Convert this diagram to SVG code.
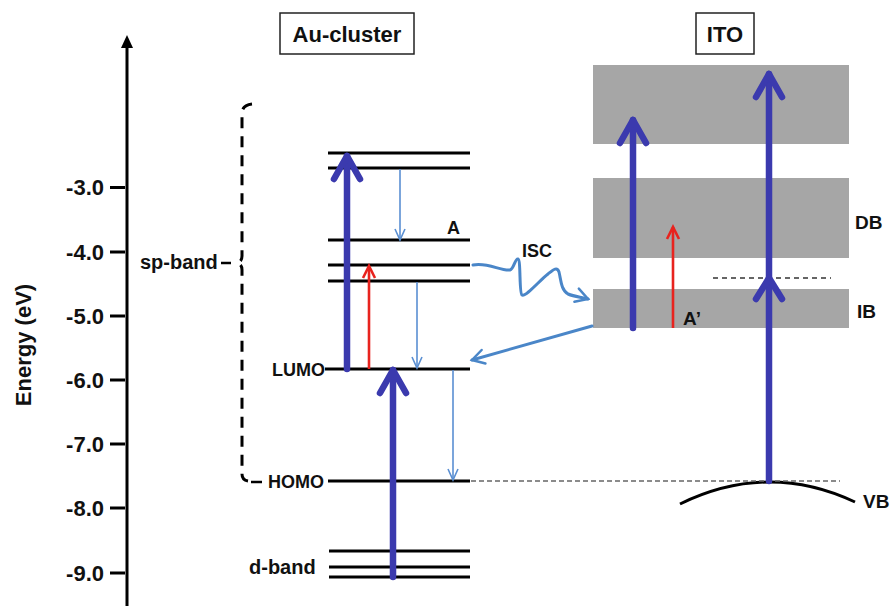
<svg xmlns="http://www.w3.org/2000/svg" width="893" height="606" viewBox="0 0 893 606">
<style>
text{font-family:"Liberation Sans",Arial,sans-serif;font-weight:bold;fill:#111}
.lvl{stroke:#000;stroke-width:3;fill:none}
.tick{stroke:#000;stroke-width:3}
.thick{stroke:#3b3aae;stroke-width:6.5;fill:none;stroke-linecap:round;stroke-linejoin:round}
.thin{stroke:#5a8fd2;stroke-width:1.6;fill:none}
.red{stroke:#e8231e;stroke-width:2.6;fill:none}
.isc{stroke:#4a86c8;stroke-width:3;fill:none;stroke-linecap:round;stroke-linejoin:round}
.band{fill:#a6a6a6}
.box{fill:#fff;stroke:#222;stroke-width:1.5}
</style>
<defs>
<marker id="hThick" markerUnits="userSpaceOnUse" viewBox="-30 -20 36 40" refX="0" refY="0" markerWidth="36" markerHeight="40" orient="auto" overflow="visible"><path d="M-23,-13 L0,0 L-23,13" fill="none" stroke="#3b3aae" stroke-width="6.5" stroke-linecap="round" stroke-linejoin="round"/></marker>
<marker id="hThin" markerUnits="userSpaceOnUse" viewBox="-14 -8 16 16" refX="0" refY="0" markerWidth="16" markerHeight="16" orient="auto" overflow="visible"><path d="M-11,-5 L0,0 L-11,5" fill="none" stroke="#5a8fd2" stroke-width="1.6"/></marker>
<marker id="hRed" markerUnits="userSpaceOnUse" viewBox="-14 -8 16 16" refX="0" refY="0" markerWidth="16" markerHeight="16" orient="auto" overflow="visible"><path d="M-12,-6 L0,0 L-12,6" fill="none" stroke="#e8231e" stroke-width="2.6"/></marker>
<marker id="hIsc" markerUnits="userSpaceOnUse" viewBox="-14 -8 16 16" refX="0" refY="0" markerWidth="16" markerHeight="16" orient="auto" overflow="visible"><path d="M-12,-7 L0,0 L-12,7" fill="none" stroke="#4a86c8" stroke-width="2.5" stroke-linecap="round"/></marker>
</defs>
<rect width="893" height="606" fill="#fff"/>

<g id="axis">
<line x1="127" y1="46" x2="127" y2="606" stroke="#000" stroke-width="3"/>
<path d="M127,35 L121,48 L133,48 Z" fill="#000"/>
<line class="tick" x1="110" y1="187.5" x2="125" y2="187.5"/>
<line class="tick" x1="110" y1="252" x2="125" y2="252"/>
<line class="tick" x1="110" y1="316" x2="125" y2="316"/>
<line class="tick" x1="110" y1="380" x2="125" y2="380"/>
<line class="tick" x1="110" y1="444" x2="125" y2="444"/>
<line class="tick" x1="110" y1="508" x2="125" y2="508"/>
<line class="tick" x1="110" y1="573" x2="125" y2="573"/>
<g font-size="22" text-anchor="end">
<text x="104" y="195">-3.0</text>
<text x="104" y="260">-4.0</text>
<text x="104" y="324">-5.0</text>
<text x="104" y="388">-6.0</text>
<text x="104" y="452">-7.0</text>
<text x="104" y="516">-8.0</text>
<text x="104" y="581">-9.0</text>
</g>
<text transform="translate(31,345) rotate(-90)" text-anchor="middle" font-size="22">Energy (eV)</text>
</g>

<g id="sp-band-bracket">
<path d="M252,104 Q243,105 242,112 L242,256 Q242,262 237,263 Q242,264 242,270 L242,474 Q242,480 248,481" fill="none" stroke="#000" stroke-width="3" stroke-dasharray="11,8"/>
<line x1="221" y1="263" x2="231" y2="263" stroke="#000" stroke-width="2.5"/>
<line x1="251" y1="482" x2="262" y2="482" stroke="#000" stroke-width="2.5"/>
<text x="140" y="269" font-size="20">sp-band</text>
</g>

<g id="au-cluster-title">
<rect class="box" x="280" y="13" width="134" height="41"/>
<text x="347" y="42" font-size="22" text-anchor="middle">Au-cluster</text>
</g>

<g id="ito-title">
<rect class="box" x="696" y="13" width="58" height="41"/>
<text x="725" y="42" font-size="22" text-anchor="middle">ITO</text>
</g>

<g id="au-levels">
<line class="lvl" x1="328" y1="153" x2="470" y2="153"/>
<line class="lvl" x1="328" y1="168" x2="470" y2="168"/>
<line class="lvl" x1="328" y1="240" x2="470" y2="240"/>
<line class="lvl" x1="328" y1="265" x2="470" y2="265"/>
<line class="lvl" x1="328" y1="281" x2="470" y2="281"/>
<text x="447" y="234" font-size="18">A</text>
</g>

<g id="lumo">
<line class="lvl" x1="325" y1="369" x2="470" y2="369"/>
<text x="272" y="376" font-size="18">LUMO</text>
</g>

<g id="homo">
<line class="lvl" x1="328" y1="481" x2="470" y2="481"/>
<text x="268" y="488" font-size="18">HOMO</text>
</g>

<g id="d-band">
<line class="lvl" x1="329" y1="551" x2="470" y2="551"/>
<line class="lvl" x1="329" y1="567" x2="470" y2="567"/>
<line class="lvl" x1="329" y1="577" x2="470" y2="577"/>
<text x="249" y="574" font-size="20">d-band</text>
</g>

<g id="ito-bands">
<rect class="band" x="593" y="65" width="256" height="79"/>
<rect class="band" x="593" y="178" width="256" height="80"/>
<rect class="band" x="593" y="289" width="256" height="39"/>
<text x="855" y="229" font-size="19">DB</text>
<text x="857" y="318" font-size="19">IB</text>
<line x1="713" y1="278" x2="831" y2="278" stroke="#333" stroke-width="1.5" stroke-dasharray="5,4"/>
</g>

<g id="vb">
<path d="M680,504 Q768,461 855,502" fill="none" stroke="#000" stroke-width="3"/>
<text x="863" y="508" font-size="19">VB</text>
</g>

<g id="connectors">
<line x1="471" y1="481" x2="840" y2="481" stroke="#666" stroke-width="1.5" stroke-dasharray="5,3"/>
<line class="thick" x1="347" y1="369" x2="347" y2="156" marker-end="url(#hThick)"/>
<line class="thick" x1="393" y1="577" x2="393" y2="370" marker-end="url(#hThick)"/>
<line class="red" x1="369" y1="369" x2="369" y2="266" marker-end="url(#hRed)"/>
<line class="thin" x1="400" y1="169" x2="400" y2="240" marker-end="url(#hThin)"/>
<line class="thin" x1="417" y1="282" x2="417" y2="368" marker-end="url(#hThin)"/>
<line class="thin" x1="453" y1="370" x2="453" y2="480" marker-end="url(#hThin)"/>
<path class="isc" d="M473,265 C488,262 500,271 510,270 C514,269 515,258 518,259 C521,260 519,293 522,295 C526,297 540,280 548,274 C553,270 557,266 559,272 C561,280 561,290 568,294 C575,297 582,297 588,299" marker-end="url(#hIsc)"/>
<text x="522" y="257" font-size="18">ISC</text>
<line class="isc" x1="592" y1="326" x2="472" y2="360" stroke-width="2.5" marker-end="url(#hIsc)"/>
<line class="thick" x1="633" y1="328" x2="633" y2="120" marker-end="url(#hThick)"/>
<line class="red" x1="673" y1="328" x2="673" y2="227" marker-end="url(#hRed)"/>
<text x="683" y="325" font-size="19">A’</text>
<line class="thick" x1="769" y1="481" x2="769" y2="74" marker-end="url(#hThick)"/>
<path class="thick" d="M756,299 L769,278 L782,299"/>
</g>
</svg>
